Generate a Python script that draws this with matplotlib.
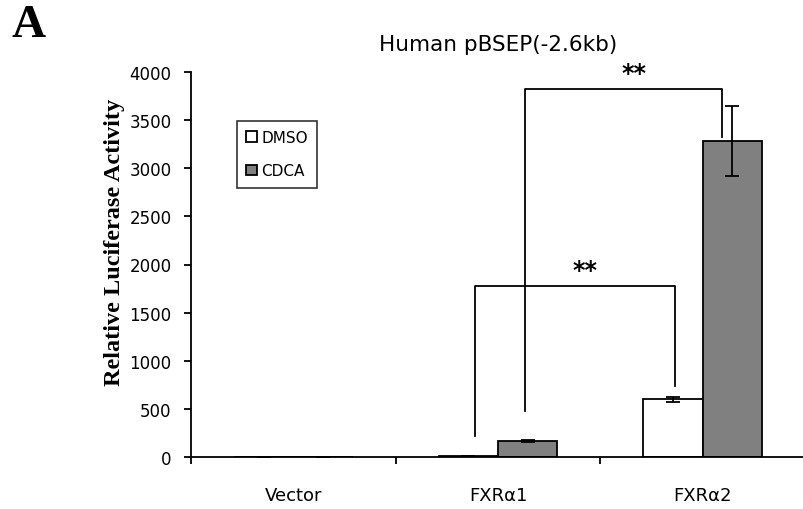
import numpy as np
import matplotlib.pyplot as plt

categories = ['Vector', 'FXR\u03b11', 'FXR\u03b12']
dmso = [0, 12, 600]
dmso_err = [0, 0, 25]
cdca = [0, 165, 3285]
cdca_err = [0, 10, 365]

# significance brackets: (x_left, y_left, x_right, y_right, y_top)
brackets = [
    (0.888, 220, 1.863, 740, 1780),
    (1.132, 480, 2.093, 3320, 3820),
]

fig = plt.figure(figsize=(8.04, 5.1), dpi=100)
ax = fig.add_axes([191 / 804, 52 / 510, 614 / 804, 385 / 510])

x = np.arange(len(categories))
w = 0.29
ekw = dict(elinewidth=1.3, capthick=1.3)
ax.bar(x - w / 2, dmso, w, color='white', edgecolor='black', linewidth=1.3,
       yerr=dmso_err, capsize=5, error_kw=ekw, label='DMSO')
ax.bar(x + w / 2, cdca, w, color='#808080', edgecolor='black', linewidth=1.3,
       yerr=cdca_err, capsize=5, error_kw=ekw, label='CDCA')

for xl, yl, xr, yr, yt in brackets:
    ax.plot([xl, xl, xr, xr], [yl, yt, yt, yr], color='black', lw=1.3)
    ax.text((xl + xr) / 2 + 0.05, yt + 40, '**', ha='center', va='bottom',
            fontsize=17, fontweight='bold', family='DejaVu Sans')

ax.set_xlim(-0.5, 2.5)
ax.set_ylim(0, 4000)
ax.set_yticks(np.arange(0, 4001, 500))
ax.set_xticks([-0.5, 0.5, 1.5, 2.5])
ax.set_xticklabels([])
ax.set_xticks(x, minor=True)
ax.set_xticklabels(categories, minor=True)
ax.tick_params(axis='x', which='minor', length=0, pad=21, labelsize=13)
ax.tick_params(axis='x', which='major', length=5, width=1.3, direction='out')
ax.tick_params(axis='y', length=5, width=1.3, direction='out', labelsize=12, pad=9)
for lab in ax.get_yticklabels() + ax.get_xticklabels(minor=True):
    lab.set_family('DejaVu Sans')

for s in ['top', 'right']:
    ax.spines[s].set_visible(False)
for s in ['left', 'bottom']:
    ax.spines[s].set_linewidth(1.3)

ax.set_ylabel('Relative Luciferase Activity', family='Liberation Serif',
              fontweight='bold', fontsize=17.5)
ax.yaxis.set_label_coords(-0.108, 0.56)
ax.set_title('Human pBSEP(-2.6kb)', family='DejaVu Sans', fontsize=15.5, pad=16)

leg = ax.legend(loc='upper left', bbox_to_anchor=(0.075, 0.873), frameon=True,
                fancybox=False, edgecolor='black', borderaxespad=0,
                handlelength=0.7, handleheight=0.7, handletextpad=0.3,
                labelspacing=1.2, borderpad=0.6, prop={'family': 'DejaVu Sans', 'size': 11})
leg.get_frame().set_linewidth(1.2)

fig.text(29 / 804, 1 - 26 / 510, 'A', family='Liberation Serif', fontweight='bold',
         fontsize=34, va='center', ha='center')

fig.savefig('out.png', dpi=100)
